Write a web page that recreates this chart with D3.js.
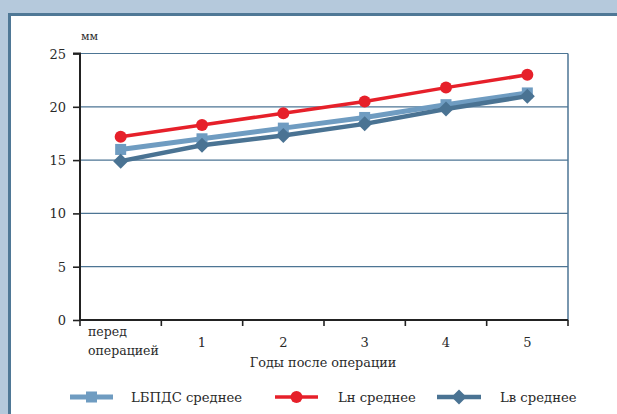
<!DOCTYPE html>
<html><head><meta charset="utf-8">
<script src="https://cdn.jsdelivr.net/npm/d3@7"></script>
<style>
html,body{margin:0;padding:0;background:#b5c9dc;}
svg{display:block;}
svg text{font-family:"DejaVu Serif",serif !important;fill:#2a2a2a;}
</style></head>
<body>
<svg id="c" width="617" height="414"></svg>
<script>
const categories = ["перед операцией", "1", "2", "3", "4", "5"];
const seriesNames = ["LБПДС среднее", "Lн среднее", "Lв среднее"];
const lbpds = [16.0, 17.0, 18.0, 19.0, 20.2, 21.3];
const ln = [17.2, 18.3, 19.4, 20.5, 21.8, 23.0];
const lv = [14.9, 16.4, 17.3, 18.4, 19.8, 21.0];
const yTicks = [0, 5, 10, 15, 20, 25];
const xTitle = "Годы после операции";
const yUnit = "мм";

const series = [
  {name: seriesNames[0], values: lbpds, color: "#6f9cc1", width: 5, marker: "square"},
  {name: seriesNames[1], values: ln, color: "#e6202a", width: 3.5, marker: "circle"},
  {name: seriesNames[2], values: lv, color: "#4a7393", width: 4.5, marker: "diamond"}
];

const svg = d3.select("#c");
// panel
svg.append("rect").attr("x", 9.5).attr("y", 14.5).attr("width", 700).attr("height", 500)
  .attr("fill", "#fff").attr("stroke", "#4f7896").attr("stroke-width", 3);

const pLeft = 80, pRight = 568, pTop = 53.5, pBottom = 320;
const x = d3.scaleBand().domain(categories).range([pLeft, pRight]);
const y = d3.scaleLinear().domain([0, 25]).range([pBottom, pTop]);

// gridlines
svg.append("g").selectAll("line").data(yTicks.filter(d => d > 0)).join("line")
  .attr("x1", pLeft).attr("x2", pRight).attr("y1", d => y(d)).attr("y2", d => y(d))
  .attr("stroke", "#4d7594").attr("stroke-width", 1.2);
// right frame
svg.append("line").attr("x1", pRight).attr("x2", pRight).attr("y1", pTop).attr("y2", pBottom)
  .attr("stroke", "#4d7594").attr("stroke-width", 1.5);

// y axis
const ya = svg.append("g").attr("transform", `translate(${pLeft},0)`)
  .call(d3.axisLeft(y).tickValues(yTicks).tickSize(7).tickPadding(7));
ya.attr("font-family", null);
ya.select(".domain").attr("stroke", "#222").attr("stroke-width", 2).attr("d", `M-7,${pTop}H0V${pBottom}`);
ya.selectAll(".tick line").attr("stroke", "#222").attr("stroke-width", 1.6);
ya.selectAll(".tick text").attr("font-size", 13).attr("fill", "#2a2a2a").attr("dy", "0.35em");

// x axis
const xa = svg.append("g").attr("transform", `translate(0,${pBottom})`)
  .call(d3.axisBottom(x).tickSize(0).tickFormat(""));
xa.select(".domain").attr("stroke", "#222").attr("stroke-width", 2).attr("d", `M${pLeft},0H${pRight}`);
const tickPos = categories.map(c => x(c)).concat([pRight]);
xa.selectAll("line.xt").data(tickPos).join("line").attr("class", "xt")
  .attr("x1", d => d).attr("x2", d => d).attr("y1", 0).attr("y2", 6)
  .attr("stroke", "#222").attr("stroke-width", 1.6);

// category labels
categories.forEach((c, i) => {
  if (i === 0) {
    const words = c.split(" ");
    const t = svg.append("text").attr("font-size", 12.5);
    t.append("tspan").attr("x", x(c) + 8).attr("y", 336).text(words[0]);
    t.append("tspan").attr("x", x(c) + 8).attr("y", 355).text(words[1]);
  } else {
    svg.append("text").attr("x", x(c) + x.bandwidth() / 2).attr("y", 347)
      .attr("text-anchor", "middle").attr("font-size", 13).text(c);
  }
});
svg.append("text").attr("x", 323).attr("y", 367).attr("text-anchor", "middle")
  .attr("font-size", 12.8).text(xTitle);
svg.append("text").attr("x", 81).attr("y", 40).attr("font-size", 11).text(yUnit);

function drawMarker(g, type, cx, cy, color) {
  if (type === "square") {
    g.append("rect").attr("x", cx - 5.5).attr("y", cy - 5.5).attr("width", 11).attr("height", 11).attr("fill", color);
  } else if (type === "circle") {
    g.append("circle").attr("cx", cx).attr("cy", cy).attr("r", 6).attr("fill", color);
  } else {
    g.append("path").attr("d", `M${cx},${cy - 7.5}L${cx + 7.5},${cy}L${cx},${cy + 7.5}L${cx - 7.5},${cy}Z`).attr("fill", color);
  }
}

const line = d3.line().x((d, i) => x(categories[i]) + x.bandwidth() / 2).y(d => y(d));
series.forEach(s => {
  const g = svg.append("g");
  g.append("path").attr("d", line(s.values)).attr("fill", "none")
    .attr("stroke", s.color).attr("stroke-width", s.width);
  s.values.forEach((v, i) => drawMarker(g, s.marker, x(categories[i]) + x.bandwidth() / 2, y(v), s.color));
});

// legend
const legendX = [[70, 113, 131], [275, 318, 338], [437, 481, 500]];
const ly = 397;
series.forEach((s, i) => {
  const g = svg.append("g");
  const [a, b, tx] = legendX[i];
  g.append("line").attr("x1", a).attr("x2", b).attr("y1", ly).attr("y2", ly)
    .attr("stroke", s.color).attr("stroke-width", s.width);
  drawMarker(g, s.marker, (a + b) / 2, ly, s.color);
  g.append("text").attr("x", tx).attr("y", ly + 4.5).attr("font-size", 13.2).text(s.name);
});
</script>
</body></html>
